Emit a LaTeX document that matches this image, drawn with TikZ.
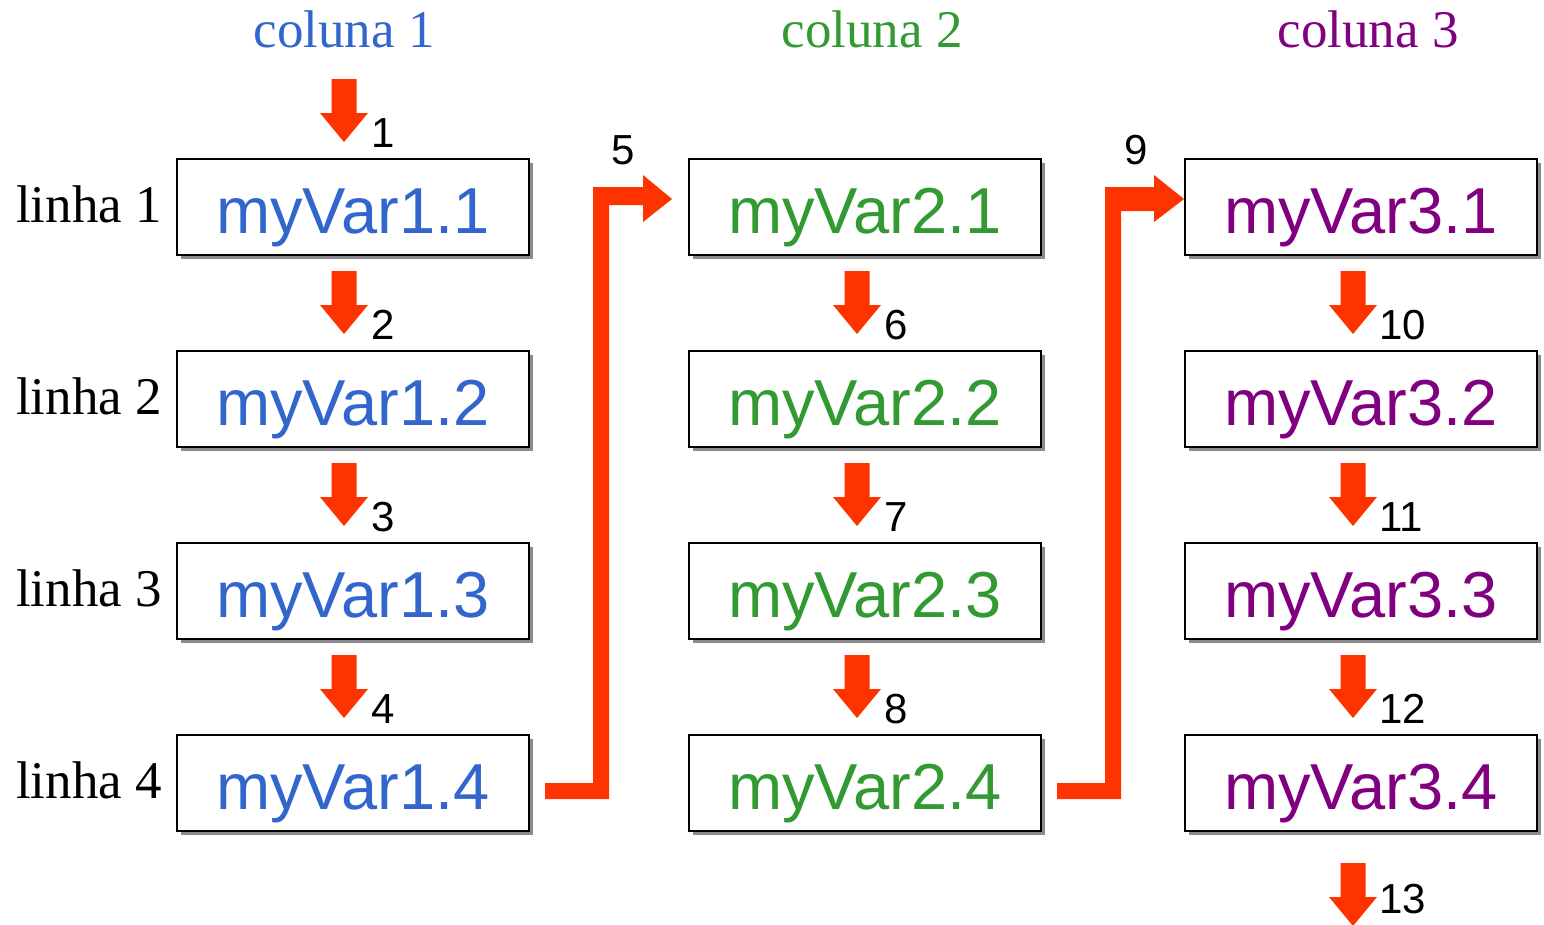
\documentclass[tikz,border=0pt]{standalone}
\usepackage{fontspec}
\setmainfont{Liberation Serif}
\setsansfont{Liberation Sans}
\usetikzlibrary{shadows}
\definecolor{cblue}{HTML}{3366CC}
\definecolor{cgreen}{HTML}{339933}
\definecolor{cpurple}{HTML}{800080}
\definecolor{cred}{HTML}{FF3300}
\tikzset{
  varbox/.style={draw=black, line width=2.6pt, fill=white, inner sep=0pt,
    minimum width=352pt, minimum height=96pt, text height=64pt, text depth=12pt,
    font=\sffamily\fontsize{65}{72}\selectfont,
    drop shadow={shadow xshift=3.5pt, shadow yshift=-3.5pt, fill=black!45, opacity=1}},
  colhead/.style={anchor=base, inner sep=0pt, font=\rmfamily\fontsize{53}{60}\selectfont},
  rowhead/.style={anchor=base west, inner sep=0pt, font=\rmfamily\fontsize{53}{60}\selectfont},
  steplabel/.style={anchor=base west, inner sep=0pt, font=\sffamily\fontsize{42}{48}\selectfont},
  elbowlabel/.style={anchor=base, inner sep=0pt, font=\sffamily\fontsize{42}{48}\selectfont},
  redarrow/.style={fill=cred, draw=none}
}
\newcommand{\myDownArrow}[2]{%
  \fill[redarrow] (#1-12.5,#2) -- (#1+12.5,#2) -- (#1+12.5,#2+34) -- (#1+24,#2+34)
    -- (#1,#2+63) -- (#1-24,#2+34) -- (#1-12.5,#2+34) -- cycle;}
\begin{document}
\begin{tikzpicture}[x=1pt, y=-1pt]
\useasboundingbox (0,0) rectangle (1544,924);

% column headers
\node[colhead, text=cblue]   (c1) at (344,47)  {coluna 1};
\node[colhead, text=cgreen]  (c2) at (872,47)  {coluna 2};
\node[colhead, text=cpurple] (c3) at (1368,47) {coluna 3};

% row headers
\node[rowhead] (l1) at (16,222) {linha 1};
\node[rowhead] (l2) at (16,414) {linha 2};
\node[rowhead] (l3) at (16,606) {linha 3};
\node[rowhead] (l4) at (16,798) {linha 4};

% boxes
\foreach \r/\y in {1/207, 2/399, 3/591, 4/783} {
  \node[varbox, text=cblue]   (v1\r) at (353,\y)  {myVar1.\r};
  \node[varbox, text=cgreen]  (v2\r) at (865,\y)  {myVar2.\r};
  \node[varbox, text=cpurple] (v3\r) at (1361,\y) {myVar3.\r};
}

% down arrows with labels
\foreach \t/\a in {79/1, 271/2, 463/3, 655/4} {
  \myDownArrow{344}{\t}
  \node[steplabel] at (371,\t+68) {\a};
}
\foreach \t/\b/\c in {271/6/10, 463/7/11, 655/8/12} {
  \myDownArrow{857}{\t}
  \node[steplabel] at (884,\t+68) {\b};
  \myDownArrow{1353}{\t}
  \node[steplabel] at (1379,\t+68) {\c};
}
\myDownArrow{1353}{863}
\node[steplabel] (n13) at (1379,913) {13};

% elbow arrows
\fill[redarrow] (545,783) -- (593,783) -- (593,187) -- (643,187) -- (643,175)
  -- (672,199) -- (643,222) -- (643,205) -- (609,205) -- (609,799) -- (545,799) -- cycle;
\node[elbowlabel] (n5) at (623,164) {5};

\fill[redarrow] (1057,783) -- (1105,783) -- (1105,187) -- (1154,187) -- (1154,175)
  -- (1184,199) -- (1154,222) -- (1154,211) -- (1121,211) -- (1121,799) -- (1057,799) -- cycle;
\node[elbowlabel] (n9) at (1136,164) {9};
\end{tikzpicture}
\end{document}
